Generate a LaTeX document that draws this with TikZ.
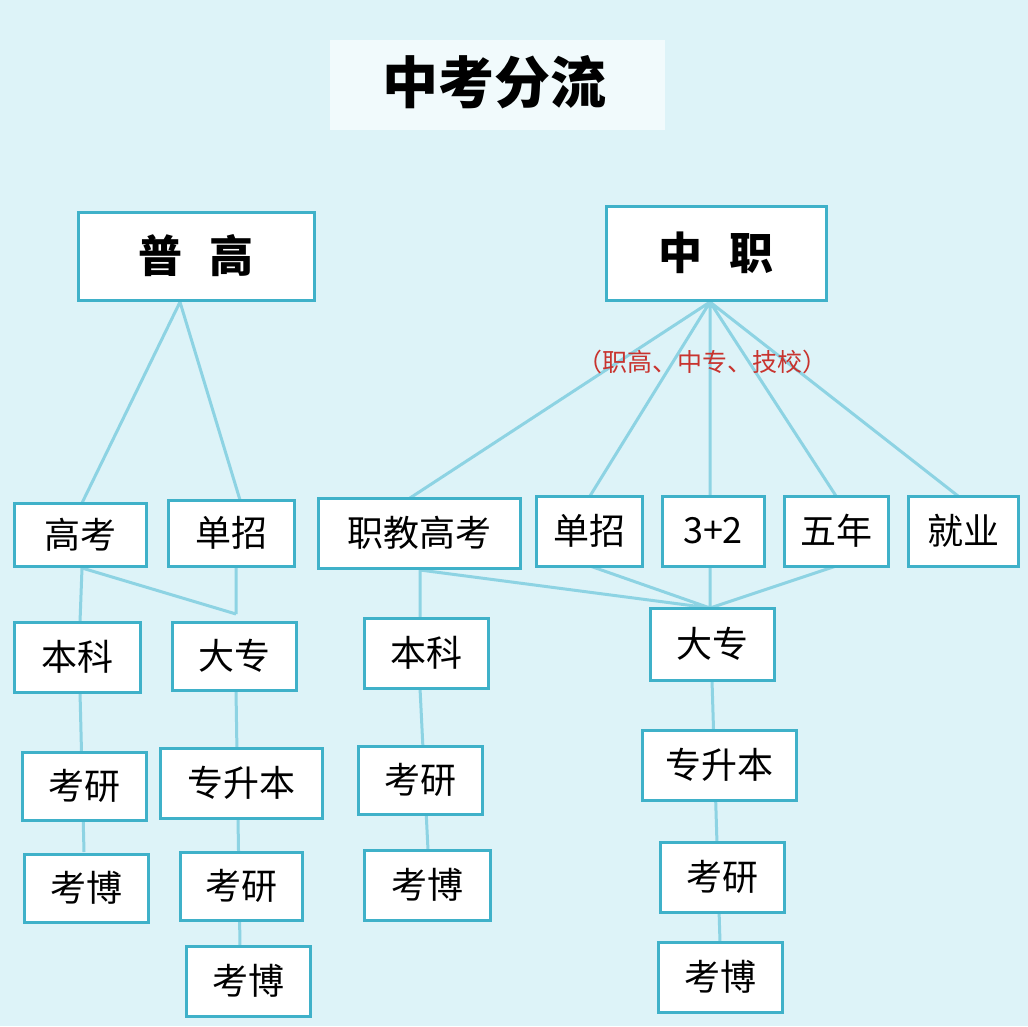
\documentclass[tikz,border=0pt]{standalone}
\usepackage{fontspec}
\setmainfont{Noto Sans CJK SC}
\begin{document}
\begin{tikzpicture}[x=1pt,y=-1pt,
 bx/.style={draw=boxc,line width=3pt,fill=white,inner sep=0pt,font=\fontsize{36}{40}\selectfont},
 ln/.style={draw=linec,line width=3pt}]
\definecolor{bg}{HTML}{DDF3F8}
\definecolor{boxc}{HTML}{3FB1C9}
\definecolor{linec}{HTML}{8DD3E3}
\definecolor{redc}{HTML}{C8332E}
\fill[bg] (0,0) rectangle (1028,1026);
\useasboundingbox (0,0) rectangle (1028,1026);
\fill[white!60!bg] (330,40) rectangle (665,130);
\node (title) at (494,82) {\fontsize{56}{60}\selectfont\bfseries 中考分流};
\newcommand\bxx[6]{\node[bx,minimum width=#4-#2,minimum height=#5-#3] (#1) at ({(#2+#4)/2},{(#3+#5)/2}) {#6};}
\coordinate (pg) at (180,302);
\coordinate (zz) at (710,302);
\coordinate (gk) at (82,568);
\coordinate (dzl) at (236,614);
\coordinate (zj) at (420,570);
\coordinate (dzr) at (710,608);
\draw[ln] (pg)--(82,503) (pg)--(240,500);
\draw[ln] (zz)--(410,498) (zz)--(590,496) (zz)--(710,496) (zz)--(836,496) (zz)--(958,496);
\draw[ln] (gk)--(80,622) (gk)--(dzl) (236,566)--(dzl);
\draw[ln] (80,692)--(84,852) (236,690)--(240,946);
\draw[ln] (zj)--(420,618) (zj)--(dzr) (590,566)--(dzr) (710,566)--(dzr) (836,566)--(dzr);
\draw[ln] (420,688)--(428,850) (712,680)--(720,942);
\bxx{pu}{78}{212}{314}{300}{\fontsize{44}{48}\selectfont\bfseries 普\hspace{0.6em}高}
\bxx{zhz}{606}{206}{826}{300}{\fontsize{44}{48}\selectfont\bfseries 中\hspace{0.6em}职}
\node[text=redc,font=\fontsize{25}{28}\selectfont] (sub) at (702,362) {（职高、中专、技校）};
\bxx{a1}{14}{503}{146}{566}{高考}
\bxx{a2}{168}{500}{294}{566}{单招}
\bxx{a3}{318}{498}{520}{568}{职教高考}
\bxx{a4}{536}{496}{642}{566}{单招}
\bxx{a5}{662}{496}{764}{566}{3+2}
\bxx{a6}{784}{496}{888}{566}{五年}
\bxx{a7}{908}{496}{1018}{566}{就业}
\bxx{b1}{14}{622}{140}{692}{本科}
\bxx{b2}{172}{622}{296}{690}{大专}
\bxx{b3}{364}{618}{488}{688}{本科}
\bxx{b4}{650}{608}{774}{680}{大专}
\bxx{c1}{22}{752}{146}{820}{考研}
\bxx{c2}{160}{748}{322}{818}{专升本}
\bxx{c3}{358}{746}{482}{814}{考研}
\bxx{c4}{642}{730}{796}{800}{专升本}
\bxx{d1}{24}{854}{148}{922}{考博}
\bxx{d2}{180}{852}{302}{920}{考研}
\bxx{d3}{364}{850}{490}{920}{考博}
\bxx{d4}{660}{842}{784}{912}{考研}
\bxx{e2}{186}{946}{310}{1016}{考博}
\bxx{e4}{658}{942}{782}{1012}{考博}
\end{tikzpicture}
\end{document}
